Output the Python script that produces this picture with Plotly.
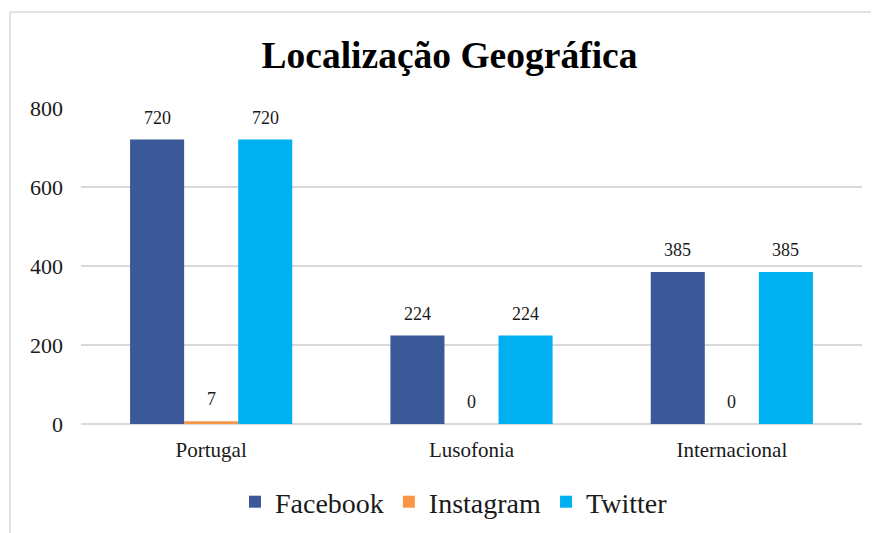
import plotly.graph_objects as go

categories = ["Portugal", "Lusofonia", "Internacional"]
facebook = [720, 224, 385]
instagram = [7, 0, 0]
twitter = [720, 224, 385]
series_names = ["Facebook", "Instagram", "Twitter"]
series_colors = ["#3B5998", "#F79646", "#00B0F0"]
y_ticks = [0, 200, 400, 600, 800]

# page is rendered with an 8px body margin; size the figure so it fills the window
OFF = 8
PAGE_W, PAGE_H = 879, 533
W, H = PAGE_W - OFF, PAGE_H - OFF
# plot area in page pixels
PL, PR, PT, PB = 81, 862, 108, 424
ML, MR, MT, MB = PL - OFF, PAGE_W - PR, PT - OFF, PAGE_H - PB
PW, PH = PR - PL, PB - PT

SERIF = "Liberation Serif, Times New Roman, serif"
TXT = "#1a1a1a"

fig = go.Figure()
for name, vals, col in zip(series_names, [facebook, instagram, twitter], series_colors):
    fig.add_trace(go.Bar(
        name=name, x=categories, y=vals,
        marker=dict(color=col, line=dict(width=0)),
    ))

# data labels above each bar
group_shift = {"Facebook": -54, "Instagram": 0, "Twitter": 54}
annotations = []
for name, vals in zip(series_names, [facebook, instagram, twitter]):
    for cat, v in zip(categories, vals):
        annotations.append(dict(
            x=cat, y=v, xref="x", yref="y", text=str(v), showarrow=False,
            xshift=group_shift[name], yshift=22, yanchor="middle",
            font=dict(family=SERIF, size=18, color=TXT),
        ))

def px_x(p):
    return (p - PL) / PW

def px_y(p):
    return (PB - p) / PH

frame = dict(color="#D9D9D9", width=1.5)

fig.update_layout(
    width=W, height=H,
    margin=dict(l=ML, r=MR, t=MT, b=MB, autoexpand=False),
    paper_bgcolor="white", plot_bgcolor="white",
    barmode="group", bargap=0.377, bargroupgap=0,
    title=dict(text="<b>Localização Geográfica</b>", x=(449.5 - OFF) / W,
               xanchor="center", y=1 - (55 - OFF) / H, yanchor="middle",
               font=dict(family=SERIF, size=37.5, color="#000000")),
    xaxis=dict(showgrid=False, showline=False, zeroline=False,
               tickfont=dict(family=SERIF, size=21, color=TXT),
               ticks="", ticklabelstandoff=11),
    yaxis=dict(range=[0, 800], tickvals=y_ticks, showgrid=True,
               gridcolor="#D9D9D9", gridwidth=2, zeroline=True,
               zerolinecolor="#D9D9D9", zerolinewidth=2, showline=False,
               tickfont=dict(family=SERIF, size=22, color=TXT),
               ticks="", ticklabelstandoff=17),
    legend=dict(orientation="h", x=px_x(454), xanchor="center",
                y=px_y(502), yanchor="middle",
                font=dict(family=SERIF, size=28, color=TXT),
                itemwidth=30, tracegroupgap=0),
    showlegend=True,
    annotations=annotations,
    shapes=[
        dict(type="line", xref="paper", yref="paper",
             x0=px_x(10), y0=px_y(540), x1=px_x(10), y1=px_y(12),
             line=frame, layer="below"),
        dict(type="line", xref="paper", yref="paper",
             x0=px_x(10), y0=px_y(12), x1=px_x(900), y1=px_y(12),
             line=frame, layer="below"),
    ],
)

fig.write_html(
    "out.html",
    config={"displayModeBar": False},
    post_script="document.documentElement.style.overflow='hidden';document.body.style.overflow='hidden';",
)
